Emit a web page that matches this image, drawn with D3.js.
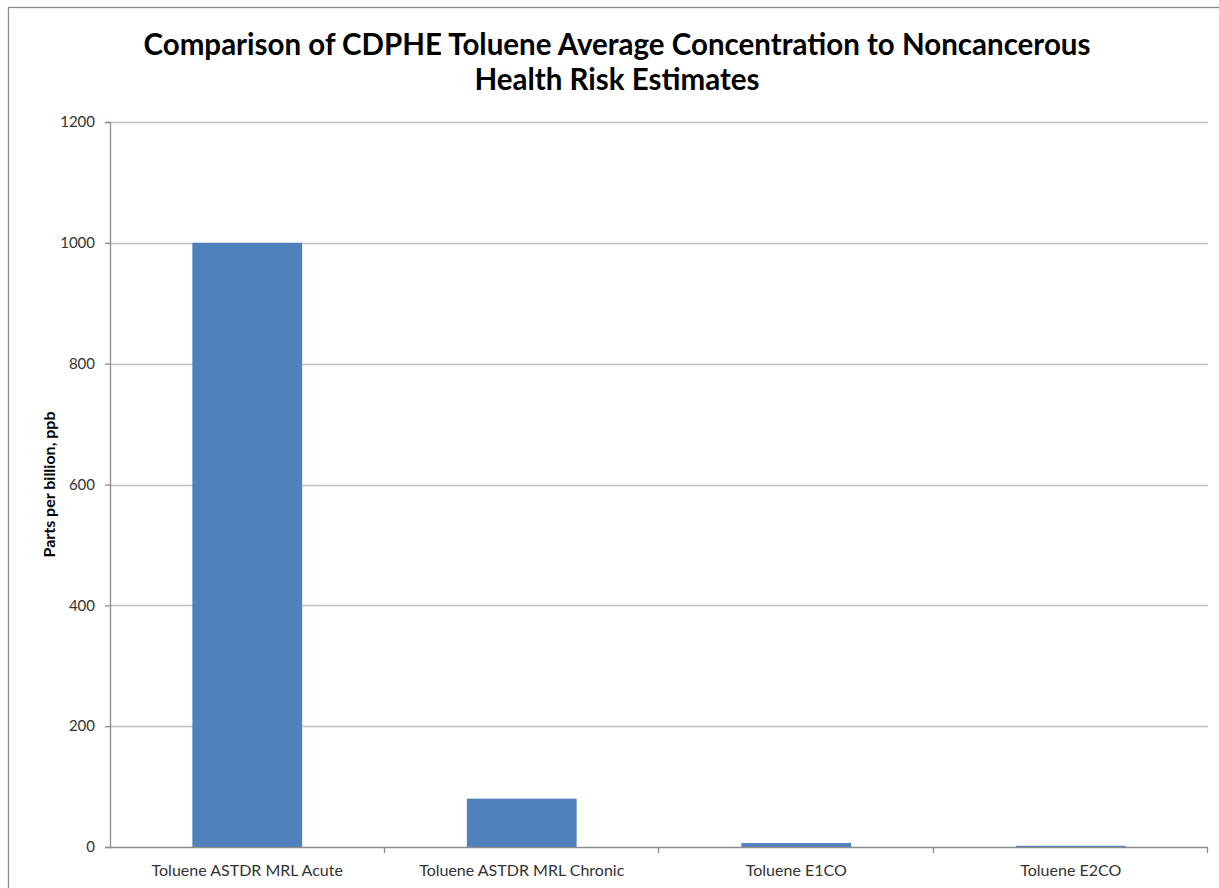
<!DOCTYPE html>
<html>
<head>
<meta charset="utf-8">
<script src="https://cdn.jsdelivr.net/npm/d3@7/dist/d3.min.js"></script>
<style>
  html, body { margin: 0; padding: 0; background: #fff; }
  svg { display: block; }
</style>
</head>
<body>
<svg id="chart" width="1219" height="888"></svg>
<script>
// Toluene concentrations and health risk estimates, parts per billion
const categories = [
  "Toluene ASTDR MRL Acute",
  "Toluene ASTDR MRL Chronic",
  "Toluene E1CO",
  "Toluene E2CO"
];
const values = [1000, 80, 6.5, 2];
const yTicks = [0, 200, 400, 600, 800, 1000, 1200];
const titleLines = [
  "Comparison of CDPHE Toluene Average Concentration to Noncancerous",
  "Health Risk Estimates"
];
const yLabel = "Parts per billion, ppb";

const svg = d3.select("#chart");
const W = 1219, H = 888;
const margin = { top: 122, right: 11, bottom: 41, left: 110 };
const plotW = W - margin.left - margin.right;
const plotH = H - margin.top - margin.bottom;
const font = "Lato, 'Open Sans', sans-serif";

// outer chart frame (extends past the page edges on right and bottom)
svg.append("rect")
  .attr("x", 8.5).attr("y", 7.5)
  .attr("width", W + 20).attr("height", H + 20)
  .attr("fill", "#fff")
  .attr("stroke", "#8c8c8c")
  .attr("stroke-width", 1.3);

const g = svg.append("g").attr("transform", `translate(${margin.left},${margin.top})`);

const x = d3.scaleBand().domain(categories).range([0, plotW]).paddingInner(0.6).paddingOuter(0.3);
const y = d3.scaleLinear().domain([0, 1200]).range([plotH, 0]);

// horizontal gridlines
g.append("g")
  .selectAll("line")
  .data(yTicks.filter(d => d > 0))
  .join("line")
  .attr("x1", 0).attr("x2", plotW)
  .attr("y1", d => Math.round(y(d)) + 0.5).attr("y2", d => Math.round(y(d)) + 0.5)
  .attr("stroke", "#c0c0c0")
  .attr("stroke-width", 1.3);

// bars
g.append("g")
  .selectAll("rect")
  .data(values)
  .join("rect")
  .attr("x", (d, i) => x(categories[i]))
  .attr("width", x.bandwidth())
  .attr("y", d => y(d))
  .attr("height", d => plotH - y(d))
  .attr("fill", "#4f81bd");

// y axis
const yAxis = g.append("g")
  .call(d3.axisLeft(y).tickValues(yTicks).tickSize(5).tickPadding(10).tickFormat(d3.format("d")));
yAxis.select(".domain").attr("stroke", "#8c8c8c").attr("stroke-width", 1.3).attr("d", `M-5,0.5H0.5V${plotH + 0.5}H-5`);
yAxis.selectAll(".tick line").attr("stroke", "#8c8c8c").attr("stroke-width", 1.3);
yAxis.selectAll(".tick text")
  .attr("font-family", font)
  .attr("font-size", 15)
  .attr("fill", "#333");

// x axis with ticks on category boundaries
const xAxisG = g.append("g").attr("transform", `translate(0,${plotH})`);
xAxisG.append("line")
  .attr("x1", 0).attr("x2", plotW)
  .attr("y1", 0.5).attr("y2", 0.5)
  .attr("stroke", "#8c8c8c").attr("stroke-width", 1.3);
xAxisG.selectAll("line.tk")
  .data(d3.range(1, categories.length + 1).map(i => i * x.step()))
  .join("line")
  .attr("class", "tk")
  .attr("x1", d => Math.round(d) - 0.5).attr("x2", d => Math.round(d) - 0.5)
  .attr("y1", 0).attr("y2", 6)
  .attr("stroke", "#8c8c8c").attr("stroke-width", 1.3);
xAxisG.selectAll("text")
  .data(categories)
  .join("text")
  .attr("x", d => x(d) + x.bandwidth() / 2)
  .attr("y", 29)
  .attr("text-anchor", "middle")
  .attr("font-family", font)
  .attr("font-size", 16)
  .attr("fill", "#333")
  .text(d => d);

// title
svg.append("g")
  .selectAll("text")
  .data(titleLines)
  .join("text")
  .attr("x", 617)
  .attr("y", (d, i) => 55 + i * 35)
  .attr("text-anchor", "middle")
  .attr("font-family", font)
  .attr("font-weight", "bold")
  .attr("font-size", 29.5)
  .attr("fill", "#000")
  .text(d => d);

// y axis title
svg.append("text")
  .attr("transform", `translate(55,${margin.top + plotH / 2}) rotate(-90)`)
  .attr("text-anchor", "middle")
  .attr("font-family", font)
  .attr("font-weight", "bold")
  .attr("font-size", 16)
  .attr("fill", "#000")
  .text(yLabel);
</script>
</body>
</html>
